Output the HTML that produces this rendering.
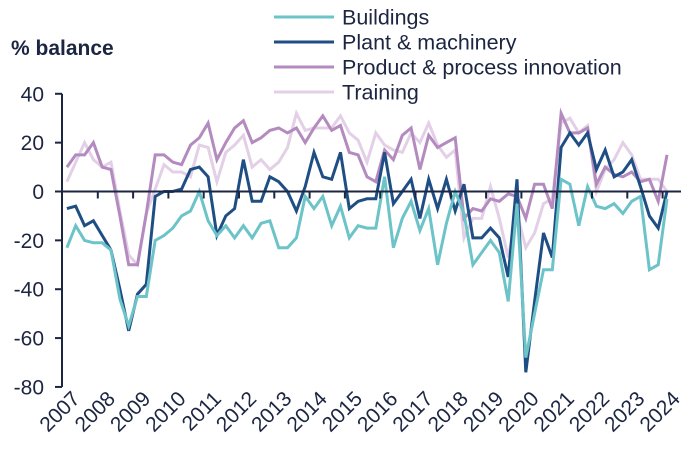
<!DOCTYPE html>
<html><head><meta charset="utf-8"><style>
body{margin:0;background:#fff;}
svg{display:block;font-family:"Liberation Sans",sans-serif;}
</style></head><body>
<svg id="chart" width="688" height="458" viewBox="0 0 688 458" xmlns="http://www.w3.org/2000/svg">
<text x="11" y="55" font-size="21" font-weight="bold" fill="#1c2541">% balance</text>
<g id="axes"></g><g id="series"></g><g id="legend"></g>
</svg>
<script>
const years = ["2007","2008","2009","2010","2011","2012","2013","2014","2015","2016","2017","2018","2019","2020","2021","2022","2023","2024"];
const yTicks = [40,20,0,-20,-40,-60,-80];
const seriesNames = ["Buildings","Plant & machinery","Product & process innovation","Training"];
const buildings = [-23,-14,-20,-21,-21,-24,-44,-55,-43,-43,-20,-18,-15,-10,-8,0,-12,-18,-14,-19,-14,-19,-13,-12,-23,-23,-19,-2,-7,-2,-14,-6,-19,-14,-15,-15,6,-23,-11,-4,-16,-7,-30,-13,0,-9,-30,-25,-20,-25,-45,-5,-68,-50,-32,-32,5,3,-14,2,-6,-7,-5,-9,-4,-2,-32,-30,-3];
const plant = [-7,-6,-14,-12,-18,-24,-40,-57,-42,-38,-2,0,0,1,9,10,6,-18,-10,-7,13,-4,-4,6,4,0,-8,2,16,6,5,16,-7,-4,-3,-3,16,-5,0,5,-11,5,-7,5,-8,3,-19,-19,-15,-19,-35,5,-74,-45,-17,-27,18,24,19,24,9,17,6,8,13,2,-10,-15,0];
const product = [10,15,15,20,10,9,-10,-30,-30,-9,15,15,12,11,19,22,28,13,20,26,29,20,22,25,26,24,26,20,26,31,25,27,16,15,6,4,17,13,23,26,9,23,18,20,22,-11,-7,-8,-3,-4,-1,-2,-11,3,3,-7,32,24,24,26,3,10,7,6,8,4,5,-4,15];
const training = [4,12,20,13,10,12,-8,-26,-30,-9,1,11,8,8,6,19,18,4,16,19,23,10,13,9,12,18,32,25,26,26,26,31,24,21,12,24,19,17,16,24,20,28,19,14,17,-19,-11,-11,2,-11,-27,-9,-23,-17,-5,-3,28,30,24,27,0,9,13,20,15,5,5,5,0];
const seriesData = [buildings, plant, product, training];
const colors = ["#6cc3c8","#1f4e84","#b48bbf","#e3d0e7"];
const NS="http://www.w3.org/2000/svg";
const x0=62.5, yearW=35.3, qW=yearW/4;
function xScale(i){return x0+(i+0.5)*qW;}
function yScale(v){return 191.5-v*2.443;}
function mk(tag,attrs,parent){const e=document.createElementNS(NS,tag);for(const k in attrs)e.setAttribute(k,attrs[k]);parent.appendChild(e);return e;}
const axes=document.getElementById('axes');
const ink="#1c2541";
let ya=mk('line',{x1:62,y1:yScale(40),x2:62,y2:yScale(-80),stroke:ink,'stroke-width':2},axes);


yTicks.forEach(t=>{
  const y=yScale(t);
  const tk=mk('line',{x1:55,y1:y,x2:62,y2:y,stroke:ink,'stroke-width':2},axes);
  
  
  const tx=mk('text',{x:44,y:y+7.5,'text-anchor':'end','font-size':21,fill:ink},axes);
  tx.textContent=t;
  
  
});
const sg=document.getElementById('series');
seriesData.slice().reverse().forEach((arr,ri)=>{
  const si=seriesData.length-1-ri;
  const pts=arr.map((v,i)=>xScale(i).toFixed(1)+','+yScale(v).toFixed(1)).join(' ');
  const pl=mk('polyline',{points:pts,fill:'none',stroke:colors[si],'stroke-width':3,'stroke-linejoin':'miter'},sg);
  
  
});
let xa=mk('line',{x1:62,y1:yScale(0),x2:681,y2:yScale(0),stroke:ink,'stroke-width':2},axes.parentNode);


years.forEach((yr,k)=>{
  if(k>0){
    const xt=x0+k*yearW;
    const tk=mk('line',{x1:xt,y1:yScale(0),x2:xt,y2:yScale(0)+7,stroke:ink,'stroke-width':2},axes.parentNode);
    
    
  }
  const cx=x0+(k+0.5)*yearW+1;
  const tx=mk('text',{x:cx,y:400,'text-anchor':'end','font-size':21,fill:ink,transform:`rotate(-45 ${cx} 400)`},axes);
  tx.textContent=yr;
  
  
});
const lg=document.getElementById('legend');
seriesNames.forEach((n,i)=>{
  const y=17+i*25;
  const ln=mk('line',{x1:274,y1:y,x2:334,y2:y,stroke:colors[i],'stroke-width':3},lg);
  
  
  const tx=mk('text',{x:342,y:y+7.5,'font-size':21.5,fill:ink},lg);
  tx.textContent=n;
  
  
});
</script>
</body></html>
